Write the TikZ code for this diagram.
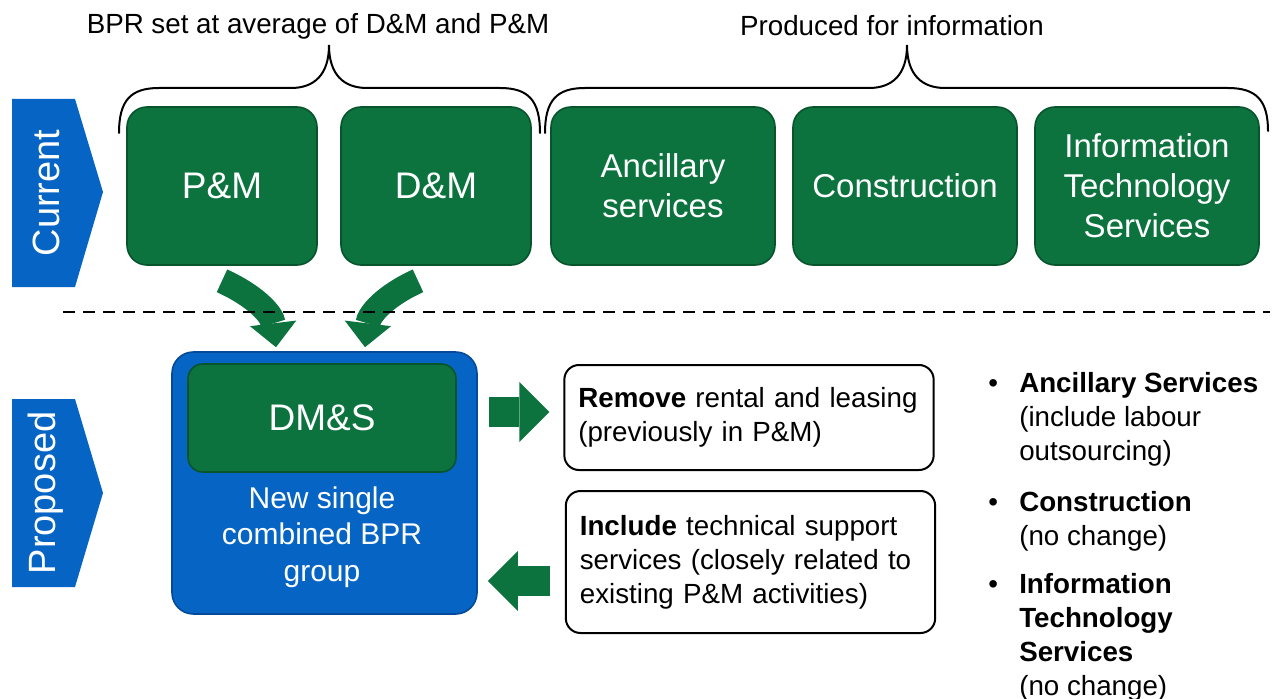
\documentclass[tikz,border=0pt]{standalone}
\usepackage{fontspec}
\setmainfont{Liberation Sans}
\usetikzlibrary{arrows.meta,positioning}

\definecolor{boxgreen}{RGB}{13,115,62}
\definecolor{boxgreenrim}{RGB}{8,84,45}
\definecolor{phaseblue}{RGB}{6,100,196}
\definecolor{phasebluerim}{RGB}{4,74,152}

\begin{document}
\begin{tikzpicture}[x=0.75pt,y=-0.75pt,
    every node/.style={inner sep=0pt}]
  \tikzstyle{greenbox}=[rectangle,rounded corners=15pt,fill=boxgreen,draw=boxgreenrim,line width=1.2pt,text=white,align=center,minimum height=118.5pt]
  \tikzstyle{bluebox}=[rectangle,rounded corners=16pt,fill=phaseblue,draw=phasebluerim,line width=1.2pt]
  \tikzstyle{notebox}=[rectangle,rounded corners=11pt,fill=white,draw=black,line width=1.5pt,align=left,text width=256pt,inner xsep=10.5pt]
  \tikzstyle{bigtxt}=[font=\fontsize{27.75}{33}\selectfont]
  \tikzstyle{midtxt}=[font=\fontsize{24.75}{30}\selectfont]
  \tikzstyle{smalltxt}=[font=\fontsize{20.8}{25.5}\selectfont]
  \tikzstyle{phasetxt}=[rotate=90,text=white,font=\fontsize{28.5}{34}\selectfont]
  \tikzstyle{curvearrow}=[draw=boxgreen,line width=18.75pt,-{Triangle[length=18pt,width=35pt,line width=0pt]}]
  \tikzstyle{blockarrow}=[draw=boxgreen,line width=22.5pt,-{Triangle[length=22.5pt,width=45pt,line width=0pt]}]
  \tikzstyle{grouping}=[line width=1.5pt,line cap=round]

  \useasboundingbox (0,0) rectangle (1275,699);

  % Phase markers on the left
  \fill[phaseblue] (12,99) -- (75,99) -- (103,192) -- (75,287) -- (12,287) -- cycle;
  \fill[phaseblue] (12,399) -- (75,399) -- (103,493) -- (75,587) -- (12,587) -- cycle;
  \node[phasetxt] (cur)  at (46,193) {Current};
  \node[phasetxt] (prop) at (46,493) {Proposed};

  % Current groups
  \node[greenbox, bigtxt, minimum width=142.5pt] (pm) at (222,186) {P\&M};
  \node[greenbox, bigtxt, minimum width=142.5pt] (dm) at (436,186) {D\&M};
  \node[greenbox, midtxt, minimum width=168pt] (anc) at (663,186) {Ancillary\\services};
  \node[greenbox, midtxt, minimum width=168pt] (constr) at (905,186) {Construction};
  \node[greenbox, midtxt, minimum width=168pt] (its) at (1147,186) {Information\\Technology\\Services};

  % Braces and their notes
  \draw[grouping] (119,133) .. controls (119,100) and (131,88) .. (159,88) -- (291,88)
    .. controls (314,88) and (329,75) .. (329,45) .. controls (329,75) and (344,88) .. (367,88)
    -- (500,88) .. controls (528,88) and (540,100) .. (540,133);
  \draw[grouping] (545,133) .. controls (545,100) and (557,88) .. (585,88) -- (869,88)
    .. controls (892,88) and (907,75) .. (907,45) .. controls (907,75) and (922,88) .. (945,88)
    -- (1228,88) .. controls (1256,88) and (1268,100) .. (1268,131);
  \node[smalltxt] (bprnote)  at (318,26) {BPR set at average of D\&M and P\&M};
  \node[smalltxt] (infonote) at (892,26) {Produced for information};

  % Proposed group
  \node[bluebox, minimum width=228.75pt, minimum height=196.5pt] (grp) at (324.5,483) {};
  \node[greenbox, bigtxt, rounded corners=11pt, minimum width=201pt, minimum height=81pt] (dms) at (322,418) {DM\&S};
  \node[text=white, align=center, font=\fontsize{22.5}{27.5}\selectfont] (grptxt) [below=10pt of dms] {New single\\combined BPR\\group};

  \node[notebox, smalltxt, minimum height=78.75pt] (remove) at (749,417.5)
    {\textbf{Remove} rental and leasing\\(previously in P\&M)};
  \node[notebox, smalltxt, minimum height=106.5pt] (include) at (750.5,562)
    {\textbf{Include} technical support\\services (closely related to\\existing P\&M activities)};

  \node[smalltxt, anchor=base west] (others) at (988,392) {%
    \begin{tabular}[t]{@{}p{23.25pt}@{}l@{}}
      \textbullet & \textbf{Ancillary Services}\\
                  & (include labour\\
                  & outsourcing)\\[12.75pt]
      \textbullet & \textbf{Construction}\\
                  & (no change)\\[10.5pt]
      \textbullet & \textbf{Information}\\
                  & \textbf{Technology}\\
                  & \textbf{Services}\\
                  & (no change)
    \end{tabular}};

  % Arrows
  \draw[curvearrow] ([shift={(0,15)}]pm.south) .. controls +(33,15) and +(-4,-33) .. ([shift={(-48.5,-4)}]grp.north);
  \draw[curvearrow] ([shift={(-18,15)}]dm.south) .. controls +(-33,15) and +(4,-33) .. ([shift={(40.5,-4)}]grp.north);
  \draw[blockarrow] ([shift={(11,-71)}]grp.east) -- ([shift={(-14,-5.5)}]remove.west);
  \draw[blockarrow] ([shift={(-15,19)}]include.west) -- ([shift={(10,98)}]grp.east);

  \draw[line width=1.5pt, dash pattern=on 9pt off 6pt] (63,312) -- (1270,312);
\end{tikzpicture}
\end{document}
